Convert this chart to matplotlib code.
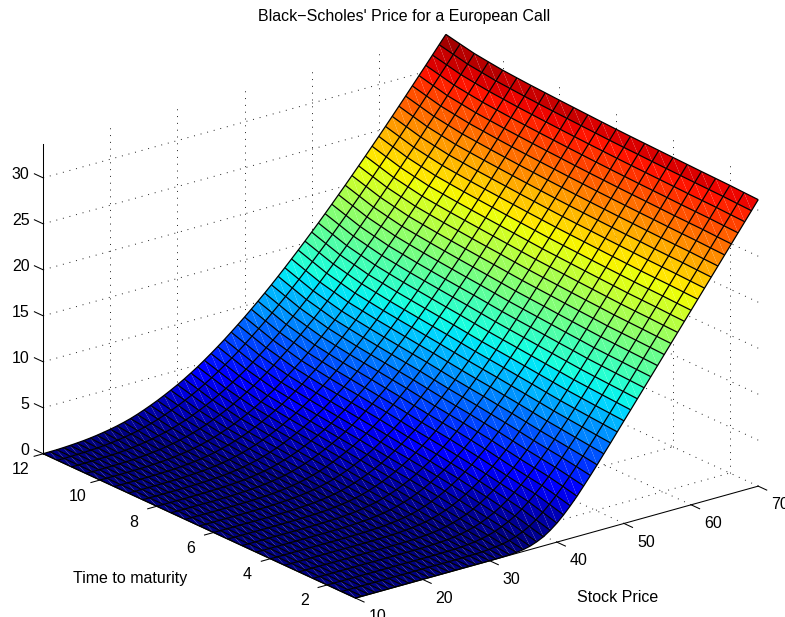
import matplotlib
matplotlib.use("Agg")
import matplotlib.pyplot as plt
import numpy as np
from mpl_toolkits.mplot3d import proj3d
from mpl_toolkits.mplot3d.art3d import Poly3DCollection, Line3DCollection

plt.rcParams['font.family'] = ['Liberation Sans', 'DejaVu Sans']

stock_price = [10, 11, 12, 13, 14, 15, 16, 17, 18, 19, 20, 21, 22, 23, 24, 25, 26, 27, 28, 29,
               30, 31, 32, 33, 34, 35, 36, 37, 38, 39, 40, 41, 42, 43, 44, 45, 46, 47, 48, 49,
               50, 51, 52, 53, 54, 55, 56, 57, 58, 59, 60, 61, 62, 63, 64, 65, 66, 67, 68, 69, 70]
maturity = [1, 1.5, 2, 2.5, 3, 3.5, 4, 4.5, 5, 5.5, 6, 6.5, 7, 7.5, 8, 8.5, 9, 9.5, 10, 10.5, 11, 11.5, 12]

price = [
 [0,0,0,0,0,0,0,0,0,0, 0,0,0,0,0,0,0,0,0,0,
  0,.01,.02,.05,.10,.20,.37,.64,.99,1.48, 2.06,2.76,3.54,4.38,5.30,6.23,7.19,8.18,9.16,10.16,
  11.16,12.15,13.15,14.15,15.15,16.15,17.15,18.15,19.15,20.15, 21.15,22.15,23.15,24.15,25.15,26.15,27.15,28.15,29.15,30.15,31.15],
 [0,0,0,0,0,0,0,0,0,0, 0,0,0,0,0,0,0,0,.01,.02,
  .03,.06,.11,.19,.30,.47,.71,1.02,1.41,1.92, 2.53,3.20,3.95,4.75,5.61,6.50,7.42,8.36,9.31,10.29,
  11.27,12.25,13.24,14.23,15.22,16.22,17.22,18.21,19.21,20.21, 21.21,22.21,23.21,24.21,25.21,26.21,27.21,28.21,29.21,30.21,31.21],
 [0,0,0,0,0,0,0,0,0,0, 0,0,0,0,0,0,0,.01,.02,.04,
  .08,.14,.23,.36,.53,.76,1.07,1.42,1.84,2.37, 2.97,3.62,4.33,5.09,5.90,6.75,7.63,8.54,9.47,10.42,
  11.38,12.35,13.33,14.31,15.30,16.29,17.29,18.28,19.28,20.28, 21.28,22.28,23.28,24.28,25.28,26.28,27.28,28.28,29.28,30.28,31.28],
 [0,0,0,0,0,0,0,0,0,0, 0,0,0,0,0,.01,.01,.03,.05,.09,
  .15,.23,.35,.52,.72,.98,1.31,1.70,2.15,2.68, 3.26,3.89,4.58,5.33,6.13,6.96,7.83,8.72,9.63,10.56,
  11.50,12.46,13.42,14.39,15.37,16.36,17.35,18.34,19.33,20.33, 21.33,22.32,23.32,24.32,25.32,26.32,27.32,28.32,29.32,30.32,31.32],
 [0,0,0,0,0,0,0,0,0,0, 0,0,0,0,.01,.02,.03,.05,.09,.15,
  .22,.33,.48,.68,.92,1.21,1.56,1.98,2.46,2.99, 3.55,4.17,4.84,5.57,6.36,7.18,8.03,8.90,9.79,10.70,
  11.63,12.57,13.52,14.48,15.45,16.43,17.41,18.40,19.39,20.38, 21.38,22.37,23.37,24.37,25.37,26.37,27.36,28.36,29.36,30.36,31.36],
 [0,0,0,0,0,0,0,0,0,0, 0,0,0,.01,.02,.04,.06,.10,.16,.23,
  .33,.46,.64,.86,1.13,1.45,1.82,2.26,2.74,3.28, 3.85,4.47,5.14,5.86,6.63,7.44,8.27,9.12,10.00,10.89,
  11.80,12.73,13.67,14.62,15.58,16.54,17.52,18.50,19.48,20.47, 21.46,22.45,23.44,24.44,25.43,26.43,27.42,28.42,29.42,30.41,31.41],
 [0,0,0,0,0,0,0,0,0,0, 0,0,.01,.01,.03,.06,.10,.15,.23,.32,
  .44,.60,.80,1.04,1.35,1.69,2.09,2.54,3.03,3.57, 4.14,4.77,5.44,6.15,6.90,7.69,8.50,9.34,10.20,11.08,
  11.97,12.89,13.81,14.75,15.70,16.65,17.62,18.59,19.57,20.55, 21.53,22.52,23.51,24.50,25.49,26.48,27.48,28.47,29.47,30.46,31.46],
 [0,0,0,0,0,0,0,0,0,0, 0,.01,.02,.03,.05,.09,.14,.20,.30,.41,
  .55,.74,.96,1.22,1.55,1.90,2.31,2.77,3.27,3.81, 4.39,5.02,5.69,6.39,7.14,7.91,8.71,9.54,10.39,11.26,
  12.14,13.04,13.96,14.89,15.83,16.77,17.73,18.69,19.66,20.64, 21.61,22.60,23.58,24.57,25.55,26.54,27.53,28.52,29.52,30.51,31.51],
 [0,0,0,0,0,0,0,0,0,0, .01,.02,.03,.05,.08,.12,.18,.26,.37,.51,
  .67,.88,1.13,1.41,1.75,2.11,2.54,3.01,3.51,4.06, 4.64,5.27,5.94,6.64,7.38,8.14,8.93,9.75,10.59,11.44,
  12.31,13.20,14.11,15.03,15.96,16.90,17.85,18.80,19.76,20.73, 21.70,22.68,23.66,24.64,25.62,26.60,27.59,28.58,29.57,30.57,31.56],
 [0,0,0,0,0,0,0,0,0,0, .01,.03,.04,.07,.11,.16,.23,.33,.45,.60,
  .78,1.01,1.27,1.57,1.91,2.29,2.73,3.21,3.72,4.27, 4.85,5.48,6.15,6.85,7.58,8.34,9.12,9.93,10.76,11.61,
  12.47,13.35,14.25,15.16,16.08,17.01,17.96,18.90,19.86,20.82, 21.78,22.76,23.73,24.71,25.69,26.67,27.66,28.64,29.63,30.62,31.61],
 [0,0,0,0,0,0,0,0,0,.01, .02,.04,.06,.10,.14,.20,.29,.40,.53,.70,
  .90,1.14,1.41,1.73,2.08,2.47,2.92,3.41,3.94,4.49, 5.06,5.69,6.36,7.06,7.79,8.54,9.32,10.12,10.94,11.78,
  12.63,13.51,14.40,15.30,16.21,17.13,18.07,19.01,19.96,20.91, 21.87,22.84,23.81,24.79,25.77,26.75,27.73,28.71,29.70,30.68,31.67],
 [0,0,0,0,0,0,0,0,.01,.02, .03,.05,.09,.13,.19,.26,.36,.49,.64,.82,
  1.04,1.30,1.59,1.93,2.29,2.69,3.15,3.64,4.17,4.73, 5.31,5.94,6.60,7.30,8.03,8.78,9.55,10.34,11.15,11.98,
  12.83,13.70,14.58,15.48,16.38,17.29,18.22,19.15,20.09,21.04, 21.99,22.95,23.91,24.88,25.86,26.83,27.81,28.79,29.77,30.76,31.74],
 [0,0,0,0,0,0,0,0,.01,.02, .04,.07,.11,.16,.23,.32,.43,.57,.74,.94,
  1.18,1.46,1.77,2.12,2.50,2.91,3.37,3.87,4.40,4.97, 5.56,6.19,6.85,7.55,8.27,9.01,9.78,10.56,11.36,12.19,
  13.03,13.89,14.77,15.66,16.55,17.45,18.37,19.30,20.23,21.17, 22.11,23.06,24.02,24.98,25.95,26.92,27.90,28.87,29.85,30.84,31.82],
 [0,0,0,0,0,0,0,.01,.02,.03, .06,.09,.14,.20,.28,.38,.50,.65,.84,1.06,
  1.31,1.60,1.92,2.28,2.67,3.09,3.56,4.06,4.60,5.18, 5.77,6.40,7.06,7.76,8.47,9.21,9.97,10.75,11.55,12.37,
  13.21,14.06,14.93,15.81,16.70,17.60,18.51,19.43,20.36,21.30, 22.23,23.18,24.13,25.09,26.05,27.01,27.99,28.96,29.93,30.92,31.90],
 [0,0,0,0,0,0,.01,.02,.03,.05, .08,.12,.17,.24,.33,.44,.58,.74,.94,1.18,
  1.44,1.74,2.08,2.45,2.85,3.28,3.75,4.26,4.81,5.39, 5.99,6.62,7.28,7.97,8.68,9.41,10.17,10.95,11.75,12.56,
  13.39,14.24,15.10,15.97,16.86,17.75,18.66,19.57,20.50,21.43, 22.36,23.30,24.25,25.20,26.15,27.11,28.08,29.05,30.02,31.00,31.98],
 [0,0,0,0,0,0,.01,.02,.04,.06, .10,.14,.20,.28,.39,.51,.67,.84,1.06,1.30,
  1.58,1.89,2.24,2.62,3.03,3.47,3.95,4.46,5.01,5.59, 6.19,6.82,7.48,8.17,8.88,9.62,10.37,11.15,11.94,12.75,
  13.57,14.42,15.27,16.14,17.02,17.91,18.81,19.72,20.64,21.56, 22.49,23.42,24.37,25.32,26.27,27.22,28.19,29.15,30.12,31.09,32.07],
 [0,0,0,0,0,.01,.02,.03,.05,.08, .12,.17,.24,.33,.45,.59,.76,.95,1.18,1.43,
  1.72,2.04,2.40,2.79,3.21,3.66,4.15,4.67,5.22,5.80, 6.40,7.03,7.69,8.38,9.09,9.83,10.58,11.35,12.14,12.94,
  13.76,14.60,15.45,16.32,17.19,18.08,18.97,19.87,20.78,21.70, 22.62,23.55,24.49,25.44,26.39,27.34,28.30,29.26,30.22,31.19,32.16],
 [0,0,0,0,0,.01,.02,.04,.06,.10, .15,.21,.30,.40,.53,.68,.87,1.07,1.32,1.58,
  1.88,2.22,2.59,2.99,3.42,3.88,4.38,4.91,5.46,6.05, 6.65,7.28,7.94,8.63,9.34,10.07,10.82,11.59,12.38,13.18,
  13.99,14.82,15.67,16.53,17.39,18.27,19.15,20.05,20.95,21.86, 22.78,23.70,24.64,25.58,26.53,27.48,28.43,29.39,30.35,31.31,32.27],
 [0,0,0,0,.01,.02,.03,.05,.08,.13, .19,.26,.36,.47,.61,.78,.98,1.20,1.46,1.74,
  2.05,2.40,2.78,3.20,3.64,4.11,4.61,5.15,5.71,6.30, 6.90,7.54,8.20,8.89,9.60,10.32,11.07,11.83,12.62,13.42,
  14.22,15.05,15.89,16.74,17.60,18.46,19.34,20.23,21.13,22.03, 22.94,23.86,24.79,25.73,26.67,27.62,28.57,29.52,30.48,31.43,32.39],
 [0,0,0,.01,.02,.03,.05,.08,.13,.19, .27,.36,.48,.62,.78,.96,1.18,1.42,1.70,2.01,
  2.34,2.70,3.10,3.53,3.99,4.47,4.98,5.52,6.09,6.69, 7.30,7.94,8.60,9.28,9.99,10.71,11.45,12.21,12.99,13.78,
  14.58,15.40,16.23,17.07,17.93,18.78,19.66,20.54,21.43,22.32, 23.22,24.13,25.05,25.98,26.91,27.85,28.79,29.73,30.68,31.63,32.58],
 [0,0,.01,.02,.03,.05,.08,.12,.18,.26, .35,.47,.61,.77,.95,1.15,1.39,1.65,1.95,2.28,
  2.63,3.01,3.42,3.87,4.34,4.83,5.35,5.90,6.48,7.08, 7.70,8.34,9.00,9.68,10.38,11.10,11.84,12.59,13.36,14.15,
  14.94,15.75,16.57,17.41,18.26,19.11,19.98,20.85,21.73,22.62, 23.51,24.41,25.32,26.24,27.16,28.08,29.01,29.95,30.89,31.83,32.78],
 [0,.01,.02,.04,.06,.10,.14,.20,.28,.38, .49,.63,.79,.98,1.19,1.43,1.70,2.00,2.32,2.67,
  3.04,3.44,3.87,4.33,4.82,5.33,5.86,6.42,7.01,7.62, 8.24,8.88,9.55,10.23,10.93,11.65,12.38,13.13,13.90,14.68,
  15.46,16.26,17.08,17.91,18.75,19.59,20.45,21.31,22.18,23.06, 23.94,24.83,25.73,26.64,27.55,28.46,29.38,30.31,31.24,32.17,33.10],
 [.01,.02,.03,.06,.10,.15,.21,.29,.39,.51, .64,.80,.98,1.19,1.44,1.72,2.02,2.34,2.69,3.06,
  3.45,3.87,4.32,4.79,5.30,5.83,6.38,6.95,7.55,8.16, 8.78,9.43,10.10,10.78,11.48,12.20,12.93,13.68,14.44,15.21,
  15.99,16.78,17.59,18.41,19.24,20.07,20.92,21.77,22.63,23.50, 24.37,25.25,26.14,27.04,27.94,28.85,29.76,30.67,31.59,32.51,33.43],
]

stock_ticks = [10, 20, 30, 40, 50, 60, 70]
maturity_ticks = [2, 4, 6, 8, 10, 12]
price_ticks = [0, 5, 10, 15, 20, 25, 30]

S_MIN, S_MAX, T_MIN, T_MAX, Z_MAX = 10, 70, 1, 12, 33.7
W, H = 785, 617

fig = plt.figure(figsize=(W / 100, H / 100), dpi=100)
SIDE = 770.3
left = 400.7 - 0.5135 * SIDE
bottom_px = 315 + 0.5135 * SIDE
ax = fig.add_axes([left / W, (H - bottom_px) / H, SIDE / W, SIDE / H], projection='3d')
ax.set_proj_type('ortho')
ax.computed_zorder = False
ax.set_box_aspect((509.6, 509.6, 332))
ax.view_init(elev=21.0, azim=-127.8)
ax.set_xlim(S_MIN, S_MAX, view_margin=0)
ax.set_ylim(T_MIN, T_MAX, view_margin=0)
ax.set_zlim(0, Z_MAX, view_margin=0)
ax.set_axis_off()
ax.patch.set_alpha(0)
ax.apply_aspect()
PROJ = ax.get_proj()

Z = np.array(price, dtype=float)
S, T = np.meshgrid(stock_price, maturity)
jet = plt.get_cmap('jet', 64)
zmax = Z.max()

tris, cols = [], []
for j in range(Z.shape[0] - 1):
    for i in range(Z.shape[1] - 1):
        a = (S[j, i], T[j, i], Z[j, i])
        b = (S[j, i + 1], T[j, i + 1], Z[j, i + 1])
        c = (S[j + 1, i + 1], T[j + 1, i + 1], Z[j + 1, i + 1])
        d = (S[j + 1, i], T[j + 1, i], Z[j + 1, i])
        col = jet(Z[j, i] / zmax)
        tris += [[a, b, c], [a, c, d]]
        cols += [col, col]
surf = Poly3DCollection(tris, facecolors=cols, edgecolors='none', linewidths=0, antialiased=True, zorder=2)
ax.add_collection3d(surf, autolim=False)

mesh = []
for j in range(Z.shape[0]):
    mesh.append(np.column_stack([S[j], T[j], Z[j]]))
for i in range(Z.shape[1]):
    mesh.append(np.column_stack([S[:, i], T[:, i], Z[:, i]]))
ax.add_collection3d(Line3DCollection(mesh, colors='black', linewidths=0.9, zorder=3), autolim=False)

dot = dict(color='#202020', lw=0.7, linestyle=(0, (1, 6)), zorder=1)
for s in stock_ticks[1:]:
    ax.plot([s, s], [T_MIN, T_MAX], [0, 0], **dot)
    ax.plot([s, s], [T_MAX, T_MAX], [0, Z_MAX], **dot)
for t in maturity_ticks:
    ax.plot([S_MIN, S_MAX], [t, t], [0, 0], **dot)
    ax.plot([S_MAX, S_MAX], [t, t], [0, Z_MAX], **dot)
for z in price_ticks[1:]:
    ax.plot([S_MIN, S_MAX], [T_MAX, T_MAX], [z, z], **dot)
    ax.plot([S_MAX, S_MAX], [T_MIN, T_MAX], [z, z], **dot)

axs = dict(color='black', lw=0.75, zorder=4)
ax.plot([S_MIN, S_MAX], [T_MIN, T_MIN], [0, 0], **axs)
ax.plot([S_MIN, S_MIN], [T_MIN, T_MAX], [0, 0], **axs)
ax.plot([S_MIN, S_MIN], [T_MAX, T_MAX], [0, Z_MAX], **axs)

FS = 11.5


def label3d(x, y, z, text, ha='center'):
    px, py, _ = proj3d.proj_transform(x, y, z, PROJ)
    ax.text2D(px, py, text, transform=ax.transData, ha=ha, va='center', fontsize=FS, zorder=5)


for s in stock_ticks:
    ax.plot([s, s], [T_MIN, T_MIN - 0.3], [0, 0], **axs)
    label3d(s, T_MIN - 0.77, -0.95, str(s))
for t in maturity_ticks:
    ax.plot([S_MIN, S_MIN - 1.35], [t, t], [0, 0], **axs)
    label3d(S_MIN - 3.4, t, -1.05, str(t))
for z in price_ticks:
    ax.plot([S_MIN, S_MIN], [T_MAX, T_MAX + 0.31], [z, z], **axs)
    label3d(S_MIN, T_MAX + 0.48, z - 0.3, str(z), ha='right')

fig.text(404 / W, 1 - 17 / H, "Black\u2212Scholes' Price for a European Call", ha='center', va='center', fontsize=FS)
fig.text(130 / W, 1 - 578 / H, "Time to maturity", ha='center', va='center', fontsize=FS)
fig.text(618 / W, 1 - 597 / H, "Stock Price", ha='center', va='center', fontsize=FS)

fig.savefig('out.png', dpi=100)
